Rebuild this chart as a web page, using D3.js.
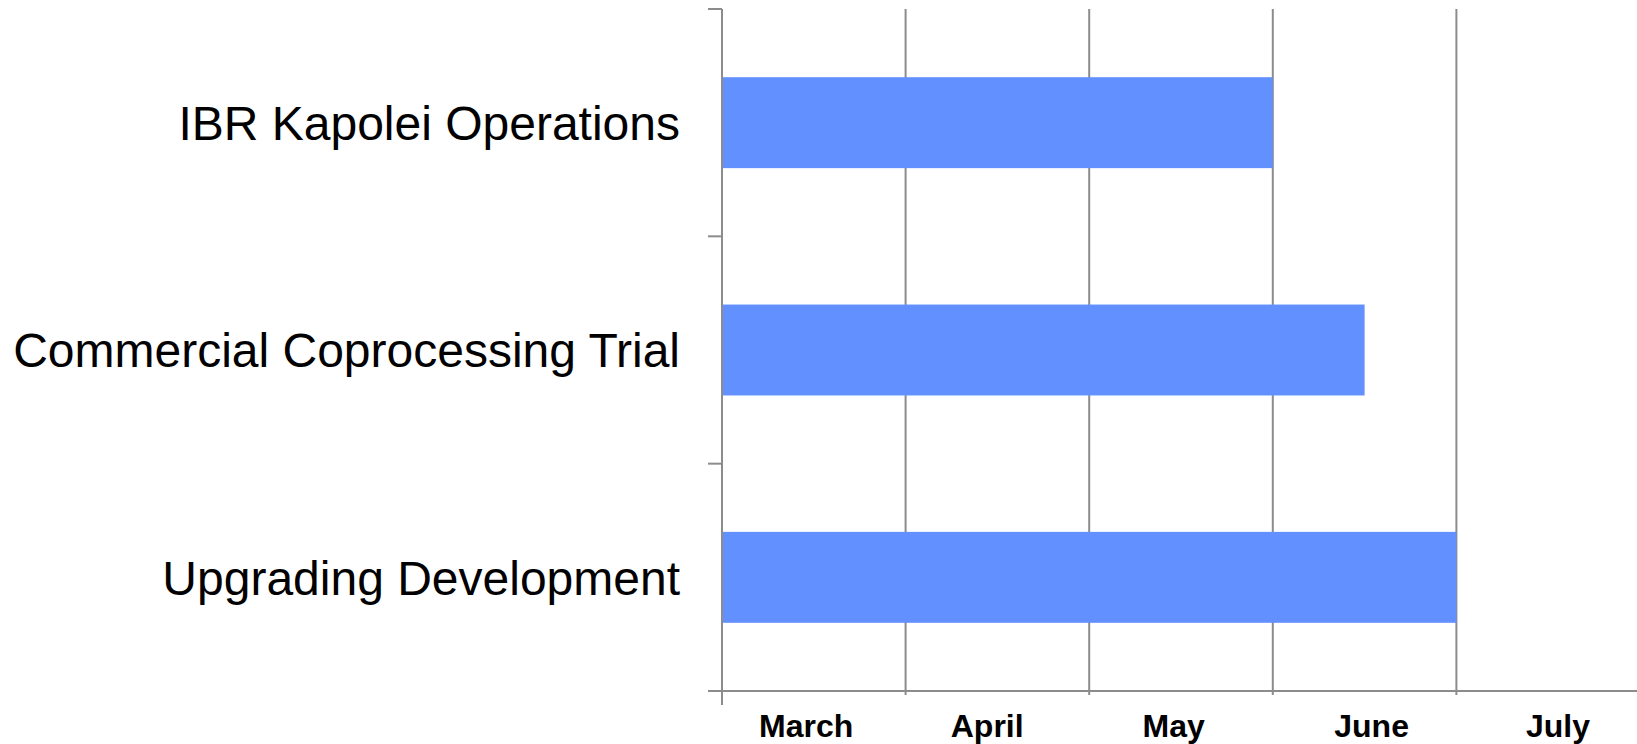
<!DOCTYPE html>
<html>
<head>
<meta charset="utf-8">
<script src="https://cdn.jsdelivr.net/npm/d3@7"></script>
<style>
  body { margin: 0; background: #fff; }
  text { font-family: "Liberation Sans", Arial, sans-serif; }
</style>
</head>
<body>
<script>
var tasks = ["IBR Kapolei Operations", "Commercial Coprocessing Trial", "Upgrading Development"];
// bar length in months counted from the start of March
var durations = [3, 3.5, 4];
var months = ["March", "April", "May", "June", "July"];

var width = 1637, height = 744;
var svg = d3.select("body").append("svg")
            .attr("width", width)
            .attr("height", height);

var x = d3.scaleLinear().domain([0, 5]).range([722, 1640]);
var y = d3.scaleBand().domain(tasks).range([9, 691])
          .paddingInner(0.6).paddingOuter(0.3);
// month labels sit left-aligned, a little to the right of each gridline
var labelX = d3.scalePoint().domain(months).range([759, 1526]);

var gray = "#8c8c8c";

// vertical gridlines
svg.selectAll("line.grid")
    .data(d3.range(1, 5))
    .enter().append("line")
            .attr("class", "grid")
            .attr("x1", function(d) {return x(d);})
            .attr("x2", function(d) {return x(d);})
            .attr("y1", 9)
            .attr("y2", 695)
            .attr("stroke", gray)
            .attr("stroke-width", 2);

// bars
svg.selectAll("rect")
    .data(tasks)
    .enter().append("rect")
            .attr("x", x(0))
            .attr("y", function(d) {return y(d);})
            .attr("width", function(d, i) {return x(durations[i]) - x(0);})
            .attr("height", y.bandwidth())
            .attr("fill", "#6390ff");

// y axis line and band separators
svg.append("line")
    .attr("x1", x(0)).attr("x2", x(0))
    .attr("y1", 9).attr("y2", 705)
    .attr("stroke", gray).attr("stroke-width", 2);

svg.selectAll("line.ytick")
    .data(d3.range(0, tasks.length + 1))
    .enter().append("line")
            .attr("class", "ytick")
            .attr("x1", 708)
            .attr("x2", x(0))
            .attr("y1", function(d) {return y.range()[0] + d * y.step();})
            .attr("y2", function(d) {return y.range()[0] + d * y.step();})
            .attr("stroke", gray)
            .attr("stroke-width", 2);

// x axis baseline
svg.append("line")
    .attr("x1", 708).attr("x2", width)
    .attr("y1", 691).attr("y2", 691)
    .attr("stroke", gray).attr("stroke-width", 2);

// task labels
svg.selectAll("text.task")
    .data(tasks)
    .enter().append("text")
    .attr("class", "task")
    .text(function(d) {return d;})
          .attr("x", 680)
          .attr("y", function(d) {return y(d) + y.bandwidth() / 2;})
          .attr("dy", "0.36em")
          .attr("text-anchor", "end")
          .attr("font-size", 48)
          .attr("fill", "#000");

// month labels
svg.selectAll("text.month")
    .data(months)
    .enter().append("text")
    .attr("class", "month")
    .text(function(d) {return d;})
          .attr("x", function(d) {return labelX(d);})
          .attr("y", 737)
          .attr("font-size", 32)
          .attr("font-weight", "bold")
          .attr("fill", "#000");
</script>
</body>
</html>
